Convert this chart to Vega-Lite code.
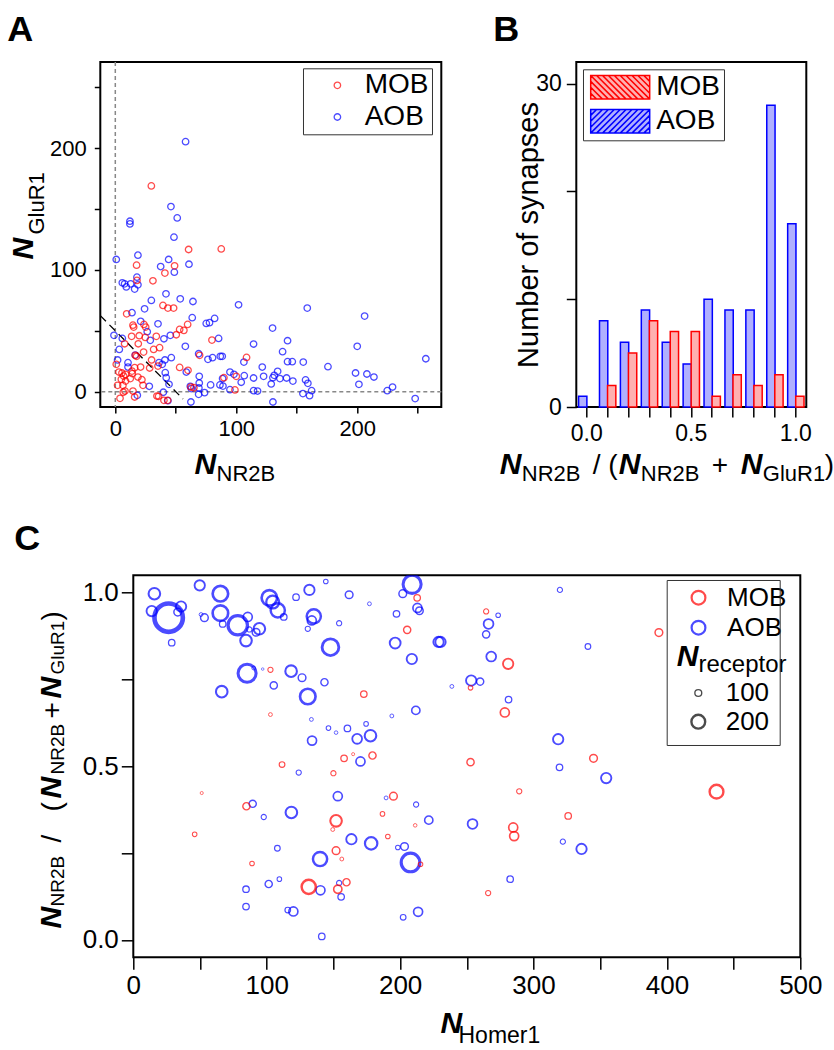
{
"$schema": "https://vega.github.io/schema/vega-lite/v6.json",
"background": "white",
"padding": {"left": 6.3, "top": 10, "right": 0, "bottom": 0},
"config": {
  "font": "Liberation Sans",
  "view": {"stroke": "black", "strokeWidth": 2},
  "axis": {"domain": false, "grid": false, "tickColor": "black", "tickWidth": 1.5, "labelColor": "black", "titleColor": "black", "labelFont": "Liberation Sans", "titleFont": "Liberation Sans", "labelFlush": false, "labelOverlap": false},
  "legend": {"labelFont": "Liberation Sans", "titleFont": "Liberation Sans", "labelColor": "black", "titleColor": "black"},
  "title": {"font": "Liberation Sans", "fontSize": 36, "fontWeight": "bold", "anchor": "start", "frame": "group", "baseline": "alphabetic", "color": "black"}
},
"datasets": {
"a": [
{"r":"AOB","nr2b":58.1,"glur1":205.2},{"r":"AOB","nr2b":46.0,"glur1":151.9},{"r":"AOB","nr2b":51.2,"glur1":142.6},{"r":"AOB","nr2b":12.1,"glur1":139.9},{"r":"AOB","nr2b":12.1,"glur1":137.7},{"r":"AOB","nr2b":48.5,"glur1":126.8},{"r":"AOB","nr2b":0.8,"glur1":108.5},{"r":"AOB","nr2b":18.7,"glur1":112},{"r":"AOB","nr2b":44.1,"glur1":108.5},{"r":"AOB","nr2b":37.5,"glur1":102.7},{"r":"AOB","nr2b":60.9,"glur1":104.6},{"r":"AOB","nr2b":48.8,"glur1":98.1},{"r":"AOB","nr2b":17.9,"glur1":94},{"r":"AOB","nr2b":5.8,"glur1":89.3},{"r":"AOB","nr2b":7.7,"glur1":88.5},{"r":"AOB","nr2b":9.1,"glur1":86},{"r":"AOB","nr2b":12.7,"glur1":88.5},{"r":"AOB","nr2b":16,"glur1":84.2},{"r":"AOB","nr2b":18.7,"glur1":87.7},{"r":"AOB","nr2b":41.9,"glur1":80.3},{"r":"AOB","nr2b":53.7,"glur1":76.2},{"r":"AOB","nr2b":64.2,"glur1":74},{"r":"AOB","nr2b":29.8,"glur1":74.9},{"r":"AOB","nr2b":101.9,"glur1":71.3},{"r":"AOB","nr2b":158.7,"glur1":68.6},{"r":"AOB","nr2b":24.2,"glur1":68},{"r":"AOB","nr2b":13.8,"glur1":64.8},{"r":"AOB","nr2b":63.6,"glur1":60.7},{"r":"AOB","nr2b":206.1,"glur1":62},{"r":"AOB","nr2b":35.3,"glur1":55.7},{"r":"AOB","nr2b":21,"glur1":57.7},{"r":"AOB","nr2b":75.2,"glur1":56},{"r":"AOB","nr2b":77.9,"glur1":56.6},{"r":"AOB","nr2b":82.1,"glur1":60.1},{"r":"AOB","nr2b":26.4,"glur1":49.2},{"r":"AOB","nr2b":130,"glur1":52.2},{"r":"AOB","nr2b":-1.1,"glur1":46.2},{"r":"AOB","nr2b":5.8,"glur1":43.7},{"r":"AOB","nr2b":28.9,"glur1":42.1},{"r":"AOB","nr2b":40.2,"glur1":43.4},{"r":"AOB","nr2b":45.5,"glur1":46.2},{"r":"AOB","nr2b":85.4,"glur1":43.7},{"r":"AOB","nr2b":57.9,"glur1":37.2},{"r":"AOB","nr2b":114.3,"glur1":39.1},{"r":"AOB","nr2b":142.4,"glur1":41.8},{"r":"AOB","nr2b":3.3,"glur1":34.7},{"r":"AOB","nr2b":138.3,"glur1":32.8},{"r":"AOB","nr2b":200,"glur1":37.2},{"r":"AOB","nr2b":68.9,"glur1":31.1},{"r":"AOB","nr2b":86.8,"glur1":29},{"r":"AOB","nr2b":88.4,"glur1":29},{"r":"AOB","nr2b":76.6,"glur1":26.5},{"r":"AOB","nr2b":80.4,"glur1":27.9},{"r":"AOB","nr2b":46.3,"glur1":27.9},{"r":"AOB","nr2b":1.9,"glur1":26},{"r":"AOB","nr2b":10.5,"glur1":23.8},{"r":"AOB","nr2b":10.5,"glur1":20.2},{"r":"AOB","nr2b":41,"glur1":26},{"r":"AOB","nr2b":38.8,"glur1":22.4},{"r":"AOB","nr2b":36.1,"glur1":23.8},{"r":"AOB","nr2b":106.3,"glur1":24.3},{"r":"AOB","nr2b":142.4,"glur1":24.6},{"r":"AOB","nr2b":146.3,"glur1":24.6},{"r":"AOB","nr2b":155.4,"glur1":24.3},{"r":"AOB","nr2b":256.7,"glur1":27},{"r":"AOB","nr2b":175.8,"glur1":20.5},{"r":"AOB","nr2b":121.5,"glur1":20.2},{"r":"AOB","nr2b":198.6,"glur1":15.3},{"r":"AOB","nr2b":208,"glur1":14.5},{"r":"AOB","nr2b":213.8,"glur1":12},{"r":"AOB","nr2b":134.2,"glur1":16.7},{"r":"AOB","nr2b":131.4,"glur1":13.4},{"r":"AOB","nr2b":130.3,"glur1":11.5},{"r":"AOB","nr2b":122.6,"glur1":12.6},{"r":"AOB","nr2b":114.3,"glur1":11.2},{"r":"AOB","nr2b":94.8,"glur1":16.1},{"r":"AOB","nr2b":98.1,"glur1":14.2},{"r":"AOB","nr2b":106.6,"glur1":13.1},{"r":"AOB","nr2b":69.4,"glur1":12.6},{"r":"AOB","nr2b":41.3,"glur1":15.6},{"r":"AOB","nr2b":42.1,"glur1":11.5},{"r":"AOB","nr2b":58.7,"glur1":16.1},{"r":"AOB","nr2b":136.1,"glur1":10.7},{"r":"AOB","nr2b":141.6,"glur1":11.2},{"r":"AOB","nr2b":146.8,"glur1":8.7},{"r":"AOB","nr2b":157.3,"glur1":9.6},{"r":"AOB","nr2b":159.2,"glur1":6.8},{"r":"AOB","nr2b":88.7,"glur1":10.7},{"r":"AOB","nr2b":86.5,"glur1":5.5},{"r":"AOB","nr2b":89,"glur1":4.6},{"r":"AOB","nr2b":104.1,"glur1":7.7},{"r":"AOB","nr2b":78.8,"glur1":5.5},{"r":"AOB","nr2b":62,"glur1":4.4},{"r":"AOB","nr2b":69.4,"glur1":7.1},{"r":"AOB","nr2b":69.1,"glur1":3},{"r":"AOB","nr2b":62.8,"glur1":2.5},{"r":"AOB","nr2b":44.4,"glur1":6},{"r":"AOB","nr2b":28.1,"glur1":4.4},{"r":"AOB","nr2b":94.8,"glur1":1.6},{"r":"AOB","nr2b":73.8,"glur1":-0.8},{"r":"AOB","nr2b":68.9,"glur1":-2.2},{"r":"AOB","nr2b":128.9,"glur1":6.3},{"r":"AOB","nr2b":114.3,"glur1":0.8},{"r":"AOB","nr2b":117.6,"glur1":0.5},{"r":"AOB","nr2b":162.3,"glur1":0.8},{"r":"AOB","nr2b":155.1,"glur1":-1.6},{"r":"AOB","nr2b":160.6,"glur1":-3.3},{"r":"AOB","nr2b":201.4,"glur1":6},{"r":"AOB","nr2b":224.8,"glur1":0.8},{"r":"AOB","nr2b":229.2,"glur1":3.8},{"r":"AOB","nr2b":247.9,"glur1":-5.7},{"r":"AOB","nr2b":130.3,"glur1":-8.5},{"r":"AOB","nr2b":62.5,"glur1":-8.5},{"r":"AOB","nr2b":43.5,"glur1":-7.4},{"r":"AOB","nr2b":39.7,"glur1":-0.5},{"r":"AOB","nr2b":18.2,"glur1":-3},{"r":"AOB","nr2b":16.5,"glur1":30},
{"r":"MOB","nr2b":29.8,"glur1":168.9},{"r":"MOB","nr2b":60.6,"glur1":116.7},{"r":"MOB","nr2b":87.6,"glur1":117.2},{"r":"MOB","nr2b":17.6,"glur1":103.8},{"r":"MOB","nr2b":49,"glur1":103.3},{"r":"MOB","nr2b":41,"glur1":97.3},{"r":"MOB","nr2b":31.1,"glur1":91},{"r":"MOB","nr2b":17.9,"glur1":91.3},{"r":"MOB","nr2b":39.4,"glur1":70.8},{"r":"MOB","nr2b":48.2,"glur1":68.6},{"r":"MOB","nr2b":43.5,"glur1":68.6},{"r":"MOB","nr2b":9.4,"glur1":63.9},{"r":"MOB","nr2b":14.6,"glur1":54.6},{"r":"MOB","nr2b":15.2,"glur1":53},{"r":"MOB","nr2b":23.7,"glur1":55.2},{"r":"MOB","nr2b":25.1,"glur1":53},{"r":"MOB","nr2b":59.8,"glur1":55.2},{"r":"MOB","nr2b":53.2,"glur1":51.1},{"r":"MOB","nr2b":56.7,"glur1":50.3},{"r":"MOB","nr2b":33.9,"glur1":45.4},{"r":"MOB","nr2b":50.4,"glur1":46.7},{"r":"MOB","nr2b":13.5,"glur1":45.4},{"r":"MOB","nr2b":19.8,"glur1":45.9},{"r":"MOB","nr2b":24.8,"glur1":44.5},{"r":"MOB","nr2b":19,"glur1":39.3},{"r":"MOB","nr2b":7.7,"glur1":39.3},{"r":"MOB","nr2b":79.9,"glur1":42.3},{"r":"MOB","nr2b":31.7,"glur1":34.7},{"r":"MOB","nr2b":36.6,"glur1":36.1},{"r":"MOB","nr2b":23.4,"glur1":32.5},{"r":"MOB","nr2b":16.5,"glur1":29.8},{"r":"MOB","nr2b":17.6,"glur1":29},{"r":"MOB","nr2b":69.7,"glur1":29.8},{"r":"MOB","nr2b":108.5,"glur1":28.1},{"r":"MOB","nr2b":0.8,"glur1":22.4},{"r":"MOB","nr2b":3,"glur1":16.1},{"r":"MOB","nr2b":5.5,"glur1":15.3},{"r":"MOB","nr2b":6.9,"glur1":12.8},{"r":"MOB","nr2b":8.5,"glur1":14.2},{"r":"MOB","nr2b":13.8,"glur1":16.9},{"r":"MOB","nr2b":14,"glur1":14.8},{"r":"MOB","nr2b":16,"glur1":19.7},{"r":"MOB","nr2b":20.9,"glur1":20.2},{"r":"MOB","nr2b":30,"glur1":26},{"r":"MOB","nr2b":28.4,"glur1":19.4},{"r":"MOB","nr2b":35.3,"glur1":21},{"r":"MOB","nr2b":5,"glur1":10.1},{"r":"MOB","nr2b":8.5,"glur1":8.7},{"r":"MOB","nr2b":12.4,"glur1":10.7},{"r":"MOB","nr2b":18.7,"glur1":12},{"r":"MOB","nr2b":22,"glur1":9.8},{"r":"MOB","nr2b":1.9,"glur1":5.2},{"r":"MOB","nr2b":6.3,"glur1":5.2},{"r":"MOB","nr2b":8,"glur1":0.5},{"r":"MOB","nr2b":6.6,"glur1":-0.5},{"r":"MOB","nr2b":3.9,"glur1":-5.5},{"r":"MOB","nr2b":14.6,"glur1":0.5},{"r":"MOB","nr2b":16,"glur1":-4.4},{"r":"MOB","nr2b":22.9,"glur1":5.2},{"r":"MOB","nr2b":53.2,"glur1":19.9},{"r":"MOB","nr2b":60.1,"glur1":17.5},{"r":"MOB","nr2b":34.4,"glur1":-3.6},{"r":"MOB","nr2b":35.8,"glur1":-3.8},{"r":"MOB","nr2b":40.2,"glur1":-7.1},{"r":"MOB","nr2b":43.3,"glur1":-7.1},{"r":"MOB","nr2b":62.5,"glur1":3.8},{"r":"MOB","nr2b":65,"glur1":3.3},{"r":"MOB","nr2b":89.8,"glur1":11.5},{"r":"MOB","nr2b":100,"glur1":12.6},{"r":"MOB","nr2b":98.9,"glur1":1.4}
],
"b": [
{"bin":"0.0","r":"AOB","n":1},{"bin":"0.1","r":"AOB","n":8},{"bin":"0.2","r":"AOB","n":6},{"bin":"0.3","r":"AOB","n":9},{"bin":"0.4","r":"AOB","n":6},{"bin":"0.5","r":"AOB","n":4},{"bin":"0.6","r":"AOB","n":10},{"bin":"0.7","r":"AOB","n":9},{"bin":"0.8","r":"AOB","n":9},{"bin":"0.9","r":"AOB","n":28},{"bin":"1.0","r":"AOB","n":17},
{"bin":"0.1","r":"MOB","n":2},{"bin":"0.2","r":"MOB","n":5},{"bin":"0.3","r":"MOB","n":8},{"bin":"0.4","r":"MOB","n":7},{"bin":"0.5","r":"MOB","n":7},{"bin":"0.6","r":"MOB","n":1},{"bin":"0.7","r":"MOB","n":3},{"bin":"0.8","r":"MOB","n":2},{"bin":"0.9","r":"MOB","n":3},{"bin":"1.0","r":"MOB","n":1}
],
"c": [
{"r":"AOB","homer":15.8,"ratio":0.997,"nrec":168},{"r":"AOB","homer":13.8,"ratio":0.947,"nrec":150},{"r":"AOB","homer":26.5,"ratio":0.928,"nrec":412},{"r":"AOB","homer":35.8,"ratio":0.96,"nrec":150},{"r":"AOB","homer":33.3,"ratio":0.944,"nrec":112},{"r":"AOB","homer":28.8,"ratio":0.856,"nrec":94},{"r":"AOB","homer":49.8,"ratio":1.021,"nrec":150},{"r":"AOB","homer":50.8,"ratio":0.937,"nrec":56},{"r":"AOB","homer":53.3,"ratio":0.928,"nrec":112},{"r":"AOB","homer":65.3,"ratio":0.997,"nrec":225},{"r":"AOB","homer":65.3,"ratio":0.941,"nrec":225},{"r":"AOB","homer":67,"ratio":0.91,"nrec":94},{"r":"AOB","homer":78.3,"ratio":0.906,"nrec":281},{"r":"AOB","homer":85.8,"ratio":0.93,"nrec":131},{"r":"AOB","homer":84.5,"ratio":0.862,"nrec":168},{"r":"AOB","homer":87,"ratio":0.894,"nrec":75},{"r":"AOB","homer":94.5,"ratio":0.896,"nrec":168},{"r":"AOB","homer":92,"ratio":0.886,"nrec":112},{"r":"AOB","homer":102,"ratio":0.985,"nrec":225},{"r":"AOB","homer":104.5,"ratio":0.973,"nrec":187},{"r":"AOB","homer":108.3,"ratio":0.949,"nrec":206},{"r":"AOB","homer":112.8,"ratio":0.93,"nrec":94},{"r":"AOB","homer":122,"ratio":0.987,"nrec":94},{"r":"AOB","homer":132,"ratio":1.008,"nrec":150},{"r":"AOB","homer":135.3,"ratio":0.932,"nrec":206},{"r":"AOB","homer":133.8,"ratio":0.92,"nrec":131},{"r":"AOB","homer":130.8,"ratio":0.896,"nrec":75},{"r":"AOB","homer":144.3,"ratio":1.032,"nrec":67},{"r":"AOB","homer":154.3,"ratio":0.912,"nrec":75},{"r":"AOB","homer":147.8,"ratio":0.843,"nrec":243},{"r":"AOB","homer":161.8,"ratio":0.994,"nrec":112},{"r":"AOB","homer":177,"ratio":0.968,"nrec":56},{"r":"AOB","homer":85.3,"ratio":0.768,"nrec":262},{"r":"AOB","homer":90.3,"ratio":0.783,"nrec":56},{"r":"AOB","homer":97,"ratio":0.78,"nrec":37},{"r":"AOB","homer":66.3,"ratio":0.715,"nrec":168},{"r":"AOB","homer":105.3,"ratio":0.733,"nrec":105},{"r":"AOB","homer":118.3,"ratio":0.774,"nrec":168},{"r":"AOB","homer":126.5,"ratio":0.755,"nrec":112},{"r":"AOB","homer":130.8,"ratio":0.701,"nrec":225},{"r":"AOB","homer":143.3,"ratio":0.742,"nrec":105},{"r":"AOB","homer":133.5,"ratio":0.635,"nrec":56},{"r":"AOB","homer":146.3,"ratio":0.61,"nrec":67},{"r":"AOB","homer":152,"ratio":0.597,"nrec":52},{"r":"AOB","homer":160.5,"ratio":0.609,"nrec":94},{"r":"AOB","homer":174.5,"ratio":0.622,"nrec":67},{"r":"AOB","homer":177.8,"ratio":0.588,"nrec":168},{"r":"AOB","homer":167.8,"ratio":0.579,"nrec":142},{"r":"AOB","homer":134,"ratio":0.574,"nrec":131},{"r":"AOB","homer":193.8,"ratio":0.645,"nrec":56},{"r":"AOB","homer":211.8,"ratio":0.661,"nrec":120},{"r":"AOB","homer":196.3,"ratio":0.855,"nrec":157},{"r":"AOB","homer":208.8,"ratio":0.809,"nrec":150},{"r":"AOB","homer":209,"ratio":1.024,"nrec":262},{"r":"AOB","homer":202,"ratio":0.997,"nrec":112},{"r":"AOB","homer":213,"ratio":0.956,"nrec":131},{"r":"AOB","homer":214.5,"ratio":0.948,"nrec":110},{"r":"AOB","homer":197.3,"ratio":0.939,"nrec":94},{"r":"AOB","homer":124,"ratio":0.482,"nrec":75},{"r":"AOB","homer":170.3,"ratio":0.514,"nrec":131},{"r":"AOB","homer":228.8,"ratio":0.858,"nrec":150},{"r":"AOB","homer":230.3,"ratio":0.858,"nrec":150},{"r":"AOB","homer":266.3,"ratio":0.91,"nrec":142},{"r":"AOB","homer":264.5,"ratio":0.88,"nrec":105},{"r":"AOB","homer":273.5,"ratio":0.935,"nrec":67},{"r":"AOB","homer":319.8,"ratio":1.008,"nrec":75},{"r":"AOB","homer":340.8,"ratio":0.845,"nrec":82},{"r":"AOB","homer":268.3,"ratio":0.816,"nrec":142},{"r":"AOB","homer":253.3,"ratio":0.747,"nrec":150},{"r":"AOB","homer":260,"ratio":0.744,"nrec":105},{"r":"AOB","homer":238.8,"ratio":0.73,"nrec":56},{"r":"AOB","homer":281.3,"ratio":0.692,"nrec":94},{"r":"AOB","homer":318.5,"ratio":0.578,"nrec":150},{"r":"AOB","homer":319.5,"ratio":0.497,"nrec":94},{"r":"AOB","homer":354.5,"ratio":0.466,"nrec":150},{"r":"AOB","homer":153.3,"ratio":0.414,"nrec":131},{"r":"AOB","homer":89.5,"ratio":0.392,"nrec":105},{"r":"AOB","homer":118.5,"ratio":0.367,"nrec":168},{"r":"AOB","homer":97.8,"ratio":0.354,"nrec":75},{"r":"AOB","homer":189.5,"ratio":0.409,"nrec":56},{"r":"AOB","homer":212,"ratio":0.39,"nrec":75},{"r":"AOB","homer":221.5,"ratio":0.345,"nrec":120},{"r":"AOB","homer":254.3,"ratio":0.334,"nrec":142},{"r":"AOB","homer":108,"ratio":0.264,"nrec":82},{"r":"AOB","homer":140,"ratio":0.233,"nrec":206},{"r":"AOB","homer":163.5,"ratio":0.29,"nrec":150},{"r":"AOB","homer":178.3,"ratio":0.278,"nrec":180},{"r":"AOB","homer":198.3,"ratio":0.266,"nrec":67},{"r":"AOB","homer":203.3,"ratio":0.269,"nrec":112},{"r":"AOB","homer":207.8,"ratio":0.223,"nrec":270},{"r":"AOB","homer":282.5,"ratio":0.175,"nrec":94},{"r":"AOB","homer":84.5,"ratio":0.146,"nrec":94},{"r":"AOB","homer":101.5,"ratio":0.161,"nrec":105},{"r":"AOB","homer":109.5,"ratio":0.175,"nrec":67},{"r":"AOB","homer":140.3,"ratio":0.143,"nrec":131},{"r":"AOB","homer":154.3,"ratio":0.164,"nrec":75},{"r":"AOB","homer":155.8,"ratio":0.124,"nrec":94},{"r":"AOB","homer":84.5,"ratio":0.096,"nrec":94},{"r":"AOB","homer":115.8,"ratio":0.086,"nrec":82},{"r":"AOB","homer":120,"ratio":0.082,"nrec":131},{"r":"AOB","homer":141.3,"ratio":0.01,"nrec":94},{"r":"AOB","homer":202.3,"ratio":0.065,"nrec":82},{"r":"AOB","homer":213.5,"ratio":0.081,"nrec":131},{"r":"AOB","homer":322,"ratio":0.283,"nrec":75},{"r":"AOB","homer":336,"ratio":0.262,"nrec":150},
{"r":"MOB","homer":212.8,"ratio":0.985,"nrec":94},{"r":"MOB","homer":205.3,"ratio":0.893,"nrec":105},{"r":"MOB","homer":102.8,"ratio":0.778,"nrec":75},{"r":"MOB","homer":172.8,"ratio":0.708,"nrec":94},{"r":"MOB","homer":102.8,"ratio":0.649,"nrec":56},{"r":"MOB","homer":111.5,"ratio":0.505,"nrec":82},{"r":"MOB","homer":150,"ratio":0.48,"nrec":75},{"r":"MOB","homer":158,"ratio":0.523,"nrec":94},{"r":"MOB","homer":164.8,"ratio":0.535,"nrec":45},{"r":"MOB","homer":179.3,"ratio":0.531,"nrec":105},{"r":"MOB","homer":264.5,"ratio":0.946,"nrec":75},{"r":"MOB","homer":281,"ratio":0.795,"nrec":150},{"r":"MOB","homer":252.8,"ratio":0.726,"nrec":67},{"r":"MOB","homer":278.5,"ratio":0.655,"nrec":131},{"r":"MOB","homer":394,"ratio":0.885,"nrec":112},{"r":"MOB","homer":252.8,"ratio":0.512,"nrec":105},{"r":"MOB","homer":345,"ratio":0.523,"nrec":112},{"r":"MOB","homer":51.3,"ratio":0.423,"nrec":45},{"r":"MOB","homer":84.8,"ratio":0.385,"nrec":105},{"r":"MOB","homer":46,"ratio":0.304,"nrec":67},{"r":"MOB","homer":152,"ratio":0.343,"nrec":168},{"r":"MOB","homer":149.5,"ratio":0.318,"nrec":56},{"r":"MOB","homer":195,"ratio":0.414,"nrec":112},{"r":"MOB","homer":186.8,"ratio":0.363,"nrec":67},{"r":"MOB","homer":211.3,"ratio":0.33,"nrec":52},{"r":"MOB","homer":190.8,"ratio":0.298,"nrec":67},{"r":"MOB","homer":289.3,"ratio":0.428,"nrec":75},{"r":"MOB","homer":284.8,"ratio":0.324,"nrec":131},{"r":"MOB","homer":285.5,"ratio":0.299,"nrec":131},{"r":"MOB","homer":152,"ratio":0.257,"nrec":112},{"r":"MOB","homer":156.3,"ratio":0.233,"nrec":56},{"r":"MOB","homer":89,"ratio":0.22,"nrec":67},{"r":"MOB","homer":215.3,"ratio":0.218,"nrec":67},{"r":"MOB","homer":131.5,"ratio":0.153,"nrec":206},{"r":"MOB","homer":153.3,"ratio":0.146,"nrec":120},{"r":"MOB","homer":159.8,"ratio":0.166,"nrec":105},{"r":"MOB","homer":266,"ratio":0.135,"nrec":75},{"r":"MOB","homer":437.2,"ratio":0.427,"nrec":200},{"r":"MOB","homer":326,"ratio":0.357,"nrec":94}
]
},
"columns": 1,
"bounds": "flush",
"spacing": 513.3,
"resolve": {"scale": {"color": "independent", "stroke": "independent", "size": "independent", "strokeWidth": "independent"}},
"concat": [
{
 "hconcat": [
  {
   "width": 341, "height": 345,
   "title": {"text": "A", "dx": -93, "offset": 12.5},
   "data": {"name": "a"},
   "resolve": {"axis": {"x": "independent", "y": "independent"}},
   "layer": [
    {"data": {"values": [{}]}, "mark": {"type": "rule", "color": "#888888", "strokeDash": [4, 3], "strokeWidth": 1.5},
     "encoding": {"x": {"datum": 0, "type": "quantitative", "scale": {"domain": [-12.4, 269.5], "nice": false, "zero": false}, "axis": null}}},
    {"data": {"values": [{}]}, "mark": {"type": "rule", "color": "#888888", "strokeDash": [4, 3], "strokeWidth": 1.5},
     "encoding": {"y": {"datum": 0, "type": "quantitative", "scale": {"domain": [-12.6, 270.6], "nice": false, "zero": false}, "axis": null}}},
    {"data": {"values": [{}]}, "mark": {"type": "rule", "color": "black", "strokeDash": [8, 5], "strokeWidth": 1.3},
     "encoding": {
      "x": {"datum": -12.4, "type": "quantitative", "scale": {"domain": [-12.4, 269.5], "nice": false, "zero": false}, "axis": null},
      "y": {"datum": 62.4, "type": "quantitative", "scale": {"domain": [-12.6, 270.6], "nice": false, "zero": false}, "axis": null},
      "x2": {"datum": 56},
      "y2": {"datum": -6}}},
    {"mark": {"type": "point", "filled": false, "size": 42, "strokeWidth": 1.3},
     "encoding": {
      "x": {"field": "nr2b", "type": "quantitative", "scale": {"domain": [-12.4, 269.5], "nice": false, "zero": false},
        "axis": {"orient": "bottom", "values": [0, 50, 100, 150, 200, 250], "labelExpr": "datum.value % 100 === 0 ? datum.label : ''", "tickSize": 6, "labelFontSize": 22, "labelPadding": 5,
          "title": "N", "titleFontSize": 30, "titleFontWeight": "bold", "titleFontStyle": "italic", "titleX": 93.7, "titleY": 66, "titleAlign": "left", "titleBaseline": "alphabetic", "titleAngle": 0}},
      "y": {"field": "glur1", "type": "quantitative", "scale": {"domain": [-12.6, 270.6], "nice": false, "zero": false},
        "axis": {"orient": "left", "values": [0, 50, 100, 150, 200, 250], "labelExpr": "datum.value % 100 === 0 ? datum.label : ''", "tickSize": 6, "labelFontSize": 22, "labelPadding": 8,
          "title": "N", "titleFontSize": 30, "titleFontWeight": "bold", "titleFontStyle": "italic", "titleX": -67.3, "titleY": 197, "titleAlign": "left", "titleBaseline": "alphabetic", "titleAngle": 270}},
      "color": {"field": "r", "type": "nominal", "scale": {"domain": ["MOB", "AOB"], "range": ["#ff0000", "#0000ff"]},
        "legend": {"orient": "none", "legendX": 202.7, "legendY": 6.3, "title": null, "strokeColor": "#333333", "padding": 3, "labelFontSize": 28, "symbolType": "circle", "symbolSize": 42, "symbolStrokeWidth": 1.3, "symbolOffset": 17.4, "labelOffset": 13.3, "rowPadding": 3.7}}
     }},
    {"mark": {"type": "point", "opacity": 0},
     "encoding": {
      "x": {"field": "nr2b", "type": "quantitative", "scale": {"domain": [-12.4, 269.5], "nice": false, "zero": false},
        "axis": {"orient": "bottom", "labels": false, "ticks": false, "domain": false, "title": "NR2B", "titleFontSize": 22, "titleFontWeight": "normal", "titleX": 115.7, "titleY": 73, "titleAlign": "left", "titleBaseline": "alphabetic", "titleAngle": 0}},
      "y": {"field": "glur1", "type": "quantitative", "scale": {"domain": [-12.6, 270.6], "nice": false, "zero": false},
        "axis": {"orient": "left", "labels": false, "ticks": false, "domain": false, "title": "GluR1", "titleFontSize": 22, "titleFontWeight": "normal", "titleX": -56.3, "titleY": 172, "titleAlign": "left", "titleBaseline": "alphabetic", "titleAngle": 270}}
     }}
   ]
  },
  {
   "width": 230, "height": 345,
   "title": {"text": "B", "dx": -83, "offset": 13.2},
   "data": {"name": "b"},
   "resolve": {"axis": {"x": "independent"}},
   "layer": [
    {"mark": {"type": "bar", "width": 8.3, "strokeWidth": 1.5},
     "encoding": {
      "x": {"field": "bin", "type": "ordinal", "scale": {"domain": ["0.0","0.1","0.2","0.3","0.4","0.5","0.6","0.7","0.8","0.9","1.0"], "paddingInner": 0, "paddingOuter": 0},
        "axis": {"orient": "bottom", "labelExpr": "datum.value === '0.0' || datum.value === '0.5' || datum.value === '1.0' ? datum.label : ''", "labelAngle": 0, "tickSize": 10, "labelFontSize": 23, "labelPadding": 5,
          "title": "N", "titleFontSize": 30, "titleFontWeight": "bold", "titleFontStyle": "italic", "titleX": -77, "titleY": 66, "titleAlign": "left", "titleBaseline": "alphabetic", "titleAngle": 0}},
      "xOffset": {"field": "r", "type": "nominal", "scale": {"domain": ["AOB", "MOB"], "paddingOuter": 0.3, "paddingInner": 0}},
      "y": {"field": "n", "type": "quantitative", "scale": {"domain": [0, 32], "nice": false},
        "axis": {"orient": "left", "values": [0, 10, 20, 30], "labelExpr": "datum.value === 0 || datum.value === 30 ? datum.label : ''", "tickSize": 10, "labelFontSize": 23, "labelPadding": 5,
          "title": "Number of synapses", "titleFontSize": 29, "titleFontWeight": "normal", "titleX": -39, "titleY": 172.5, "titleAlign": "center", "titleBaseline": "alphabetic", "titleAngle": 270}},
      "color": {"field": "r", "type": "nominal", "scale": {"domain": ["MOB", "AOB"], "range": ["#ffb0b0", "#b0b0ff"]},
        "legend": {"orient": "none", "legendX": 6.7, "legendY": 7.3, "title": null, "strokeColor": "#333333", "padding": 4, "labelFontSize": 28, "symbolSize": 557, "symbolOffset": 19.2, "labelOffset": 22, "rowPadding": 4, "symbolStrokeWidth": 1.5,
          "encode": {"symbols": {"update": {"shape": {"signal": "datum.value === 'MOB' ? 'M-2.5,-1H2.5V1H-2.5Z M-2.5,0.5L-2,1 M-2.5,0L-1.5,1 M-2.5,-0.5L-1,1 M-2.5,-1L-0.5,1 M-2,-1L0,1 M-1.5,-1L0.5,1 M-1,-1L1,1 M-0.5,-1L1.5,1 M0,-1L2,1 M0.5,-1L2.5,1 M1,-1L2.5,0.5 M1.5,-1L2.5,0 M2,-1L2.5,-0.5' : 'M-2.5,-1H2.5V1H-2.5Z M-2.5,-0.5L-2,-1 M-2.5,0L-1.5,-1 M-2.5,0.5L-1,-1 M-2.5,1L-0.5,-1 M-2,1L0,-1 M-1.5,1L0.5,-1 M-1,1L1,-1 M-0.5,1L1.5,-1 M0,1L2,-1 M0.5,1L2.5,-1 M1,1L2.5,-0.5 M1.5,1L2.5,0 M2,1L2.5,0.5'"}, "fill": {"value": "white"}, "fillOpacity": {"value": 1}, "strokeWidth": {"value": 1.5}}}}}},
      "stroke": {"field": "r", "type": "nominal", "scale": {"domain": ["MOB", "AOB"], "range": ["#ff0000", "#0000ff"]},
        "legend": {"orient": "none", "legendX": 6.7, "legendY": 7.3, "title": null, "strokeColor": "#333333", "padding": 4, "labelFontSize": 28, "symbolSize": 557, "symbolOffset": 19.2, "labelOffset": 22, "rowPadding": 4, "symbolStrokeWidth": 1.5,
          "encode": {"symbols": {"update": {"shape": {"signal": "datum.value === 'MOB' ? 'M-2.5,-1H2.5V1H-2.5Z M-2.5,0.5L-2,1 M-2.5,0L-1.5,1 M-2.5,-0.5L-1,1 M-2.5,-1L-0.5,1 M-2,-1L0,1 M-1.5,-1L0.5,1 M-1,-1L1,1 M-0.5,-1L1.5,1 M0,-1L2,1 M0.5,-1L2.5,1 M1,-1L2.5,0.5 M1.5,-1L2.5,0 M2,-1L2.5,-0.5' : 'M-2.5,-1H2.5V1H-2.5Z M-2.5,-0.5L-2,-1 M-2.5,0L-1.5,-1 M-2.5,0.5L-1,-1 M-2.5,1L-0.5,-1 M-2,1L0,-1 M-1.5,1L0.5,-1 M-1,1L1,-1 M-0.5,1L1.5,-1 M0,1L2,-1 M0.5,1L2.5,-1 M1,1L2.5,-0.5 M1.5,1L2.5,0 M2,1L2.5,0.5'"}, "fill": {"value": "white"}, "fillOpacity": {"value": 1}, "strokeWidth": {"value": 1.5}}}}}}
     }},
    {"mark": {"type": "point", "opacity": 0}, "encoding": {"x": {"field": "bin", "type": "ordinal", "axis": {"orient": "bottom", "labels": false, "ticks": false, "domain": false, "title": "NR2B", "titleFontSize": 22, "titleFontWeight": "normal", "titleX": -55, "titleY": 73, "titleAlign": "left", "titleBaseline": "alphabetic", "titleAngle": 0}}, "y": {"field": "n", "type": "quantitative"}}},
    {"mark": {"type": "point", "opacity": 0}, "encoding": {"x": {"field": "bin", "type": "ordinal", "axis": {"orient": "bottom", "labels": false, "ticks": false, "domain": false, "title": "/\u00a0(", "titleFontSize": 28, "titleFontWeight": "normal", "titleX": 16, "titleY": 66, "titleAlign": "left", "titleBaseline": "alphabetic", "titleAngle": 0}}, "y": {"field": "n", "type": "quantitative"}}},
    {"mark": {"type": "point", "opacity": 0}, "encoding": {"x": {"field": "bin", "type": "ordinal", "axis": {"orient": "bottom", "labels": false, "ticks": false, "domain": false, "title": "N", "titleFontSize": 30, "titleFontWeight": "bold", "titleFontStyle": "italic", "titleX": 42, "titleY": 66, "titleAlign": "left", "titleBaseline": "alphabetic", "titleAngle": 0}}, "y": {"field": "n", "type": "quantitative"}}},
    {"mark": {"type": "point", "opacity": 0}, "encoding": {"x": {"field": "bin", "type": "ordinal", "axis": {"orient": "bottom", "labels": false, "ticks": false, "domain": false, "title": "NR2B", "titleFontSize": 22, "titleFontWeight": "normal", "titleX": 64, "titleY": 73, "titleAlign": "left", "titleBaseline": "alphabetic", "titleAngle": 0}}, "y": {"field": "n", "type": "quantitative"}}},
    {"mark": {"type": "point", "opacity": 0}, "encoding": {"x": {"field": "bin", "type": "ordinal", "axis": {"orient": "bottom", "labels": false, "ticks": false, "domain": false, "title": "+", "titleFontSize": 28, "titleFontWeight": "normal", "titleX": 135, "titleY": 66, "titleAlign": "left", "titleBaseline": "alphabetic", "titleAngle": 0}}, "y": {"field": "n", "type": "quantitative"}}},
    {"mark": {"type": "point", "opacity": 0}, "encoding": {"x": {"field": "bin", "type": "ordinal", "axis": {"orient": "bottom", "labels": false, "ticks": false, "domain": false, "title": "N", "titleFontSize": 30, "titleFontWeight": "bold", "titleFontStyle": "italic", "titleX": 164, "titleY": 66, "titleAlign": "left", "titleBaseline": "alphabetic", "titleAngle": 0}}, "y": {"field": "n", "type": "quantitative"}}},
    {"mark": {"type": "point", "opacity": 0}, "encoding": {"x": {"field": "bin", "type": "ordinal", "axis": {"orient": "bottom", "labels": false, "ticks": false, "domain": false, "title": "GluR1", "titleFontSize": 22, "titleFontWeight": "normal", "titleX": 186, "titleY": 73, "titleAlign": "left", "titleBaseline": "alphabetic", "titleAngle": 0}}, "y": {"field": "n", "type": "quantitative"}}},
    {"mark": {"type": "point", "opacity": 0}, "encoding": {"x": {"field": "bin", "type": "ordinal", "axis": {"orient": "bottom", "labels": false, "ticks": false, "domain": false, "title": ")", "titleFontSize": 28, "titleFontWeight": "normal", "titleX": 248, "titleY": 66, "titleAlign": "left", "titleBaseline": "alphabetic", "titleAngle": 0}}, "y": {"field": "n", "type": "quantitative"}}}
   ]
  }
 ],
 "spacing": 135,
 "bounds": "flush",
 "resolve": {"scale": {"color": "independent", "stroke": "independent"}}
},
{
 "hconcat": [
  {"width": 1, "height": 382, "data": {"values": [{}]}, "mark": {"type": "point", "opacity": 0}, "view": {"stroke": null}},
  {
   "width": 667, "height": 382,
   "title": {"text": "C", "dx": -119, "offset": 16.8},
   "data": {"name": "c"},
   "resolve": {"axis": {"x": "independent", "y": "independent"}},
   "layer": [
    {"mark": {"type": "point", "filled": false, "clip": true},
     "encoding": {
      "x": {"field": "homer", "type": "quantitative", "scale": {"domain": [0, 500], "nice": false, "zero": false},
        "axis": {"orient": "bottom", "values": [0, 50, 100, 150, 200, 250, 300, 350, 400, 450, 500], "labelExpr": "datum.value % 100 === 0 ? datum.label : ''", "tickSize": 12, "labelFontSize": 26, "labelPadding": 3,
          "title": "N", "titleFontSize": 30, "titleFontWeight": "bold", "titleFontStyle": "italic", "titleX": 306.7, "titleY": 75.4, "titleAlign": "left", "titleBaseline": "alphabetic", "titleAngle": 0}},
      "y": {"field": "ratio", "type": "quantitative", "scale": {"domain": [-0.05, 1.05], "nice": false, "zero": false},
        "axis": {"orient": "left", "values": [0, 0.25, 0.5, 0.75, 1], "labelExpr": "datum.value % 0.5 === 0 ? format(datum.value, '.1f') : ''", "tickSize": 12, "labelFontSize": 26, "labelPadding": 3,
          "title": "N", "titleFontSize": 30, "titleFontWeight": "bold", "titleFontStyle": "italic", "titleX": -72.3, "titleY": 352.7, "titleAlign": "left", "titleBaseline": "alphabetic", "titleAngle": 270}},
      "color": {"field": "r", "type": "nominal", "scale": {"domain": ["MOB", "AOB"], "range": ["#ff0000", "#0000ff"]},
        "legend": {"orient": "none", "legendX": 552.2, "legendY": 9.4, "title": "receptor", "titleOrient": "bottom", "titleAnchor": "end", "titleFontSize": 24, "titleFontWeight": "normal", "titlePadding": 12, "labelFontSize": 26, "symbolType": "circle", "symbolSize": 190, "symbolStrokeWidth": 2.2, "symbolOffset": 0, "labelOffset": 15.6, "rowPadding": 4, "padding": 0}},
      "size": {"field": "nrec", "type": "quantitative", "scale": {"type": "pow", "exponent": 2, "domain": [0, 200], "range": [0, 190]},
        "legend": {"orient": "none", "legendX": 533.4, "legendY": 4.7, "values": [100, 200], "title": ["\u00a0\u00a0\u00a0\u00a0\u00a0\u00a0\u00a0\u00a0\u00a0\u00a0\u00a0\u00a0\u00a0", "\u00a0", "N"], "titleFontSize": 30, "titleFontStyle": "italic", "titleFontWeight": "bold", "titleLineHeight": 52.5, "titlePadding": -45, "titleAlign": "left", "labelFontSize": 26, "symbolType": "circle", "symbolStrokeColor": "black", "symbolFillColor": "transparent", "symbolOffset": 8.6, "labelOffset": 14.4, "rowPadding": 2.7, "padding": 10, "strokeColor": "#333333"}},
      "strokeWidth": {"field": "nrec", "type": "quantitative", "scale": {"domain": [0, 200], "range": [0.3, 2.4]}}
     }},
    {"mark": {"type": "point", "opacity": 0}, "encoding": {
      "x": {"field": "homer", "type": "quantitative", "scale": {"domain": [0, 500], "nice": false, "zero": false}, "axis": {"orient": "bottom", "labels": false, "ticks": false, "domain": false, "title": "Homer1", "titleFontSize": 23, "titleFontWeight": "normal", "titleX": 324.7, "titleY": 85.4, "titleAlign": "left", "titleBaseline": "alphabetic", "titleAngle": 0}},
      "y": {"field": "ratio", "type": "quantitative", "scale": {"domain": [-0.05, 1.05], "nice": false, "zero": false}, "axis": {"orient": "left", "labels": false, "ticks": false, "domain": false, "title": "NR2B", "titleFontSize": 19, "titleFontWeight": "normal", "titleX": -69.3, "titleY": 330.7, "titleAlign": "left", "titleBaseline": "alphabetic", "titleAngle": 270}}}},
    {"mark": {"type": "point", "opacity": 0}, "encoding": {"x": {"field": "homer", "type": "quantitative", "axis": null},
      "y": {"field": "ratio", "type": "quantitative", "axis": {"orient": "left", "labels": false, "ticks": false, "domain": false, "title": "/\u00a0\u00a0\u00a0(", "titleFontSize": 28, "titleFontWeight": "normal", "titleX": -72.3, "titleY": 266.7, "titleAlign": "left", "titleBaseline": "alphabetic", "titleAngle": 270}}}},
    {"mark": {"type": "point", "opacity": 0}, "encoding": {"x": {"field": "homer", "type": "quantitative", "axis": null},
      "y": {"field": "ratio", "type": "quantitative", "axis": {"orient": "left", "labels": false, "ticks": false, "domain": false, "title": "N", "titleFontSize": 30, "titleFontWeight": "bold", "titleFontStyle": "italic", "titleX": -72.3, "titleY": 222.7, "titleAlign": "left", "titleBaseline": "alphabetic", "titleAngle": 270}}}},
    {"mark": {"type": "point", "opacity": 0}, "encoding": {"x": {"field": "homer", "type": "quantitative", "axis": null},
      "y": {"field": "ratio", "type": "quantitative", "axis": {"orient": "left", "labels": false, "ticks": false, "domain": false, "title": "NR2B", "titleFontSize": 19, "titleFontWeight": "normal", "titleX": -69.3, "titleY": 198.7, "titleAlign": "left", "titleBaseline": "alphabetic", "titleAngle": 270}}}},
    {"mark": {"type": "point", "opacity": 0}, "encoding": {"x": {"field": "homer", "type": "quantitative", "axis": null},
      "y": {"field": "ratio", "type": "quantitative", "axis": {"orient": "left", "labels": false, "ticks": false, "domain": false, "title": "+", "titleFontSize": 28, "titleFontWeight": "normal", "titleX": -72.3, "titleY": 142.7, "titleAlign": "left", "titleBaseline": "alphabetic", "titleAngle": 270}}}},
    {"mark": {"type": "point", "opacity": 0}, "encoding": {"x": {"field": "homer", "type": "quantitative", "axis": null},
      "y": {"field": "ratio", "type": "quantitative", "axis": {"orient": "left", "labels": false, "ticks": false, "domain": false, "title": "N", "titleFontSize": 30, "titleFontWeight": "bold", "titleFontStyle": "italic", "titleX": -72.3, "titleY": 122.7, "titleAlign": "left", "titleBaseline": "alphabetic", "titleAngle": 270}}}},
    {"mark": {"type": "point", "opacity": 0}, "encoding": {"x": {"field": "homer", "type": "quantitative", "axis": null},
      "y": {"field": "ratio", "type": "quantitative", "axis": {"orient": "left", "labels": false, "ticks": false, "domain": false, "title": "GluR1", "titleFontSize": 19, "titleFontWeight": "normal", "titleX": -69.3, "titleY": 98.7, "titleAlign": "left", "titleBaseline": "alphabetic", "titleAngle": 270}}}},
    {"mark": {"type": "point", "opacity": 0}, "encoding": {"x": {"field": "homer", "type": "quantitative", "axis": null},
      "y": {"field": "ratio", "type": "quantitative", "axis": {"orient": "left", "labels": false, "ticks": false, "domain": false, "title": ")", "titleFontSize": 28, "titleFontWeight": "normal", "titleX": -72.3, "titleY": 44.7, "titleAlign": "left", "titleBaseline": "alphabetic", "titleAngle": 270}}}}
   ]
  }
 ],
 "spacing": 32,
 "bounds": "flush",
 "resolve": {"scale": {"color": "independent", "size": "independent", "strokeWidth": "independent"}}
}
]
}
